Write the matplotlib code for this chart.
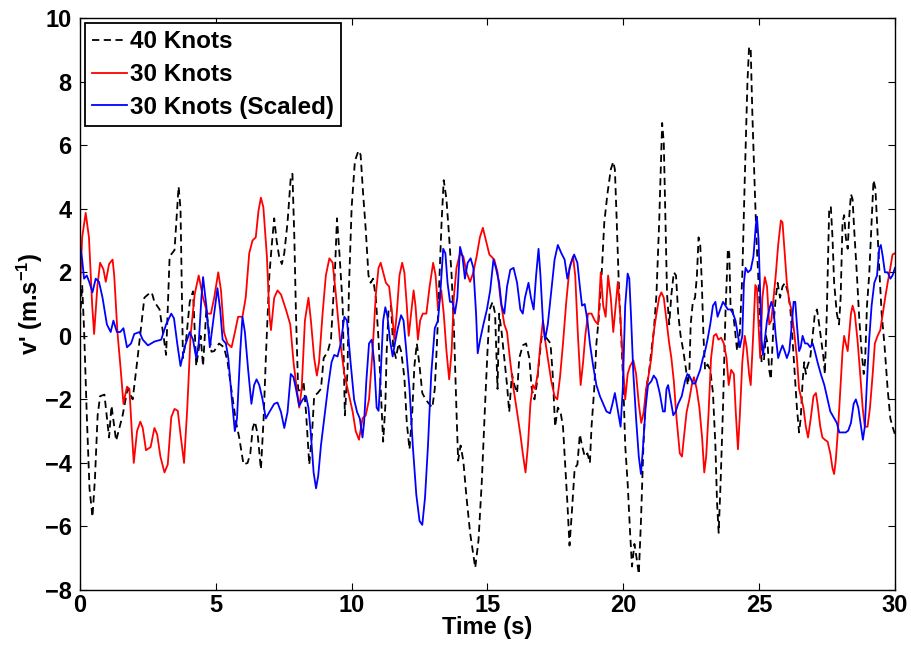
import matplotlib
matplotlib.use("Agg")
import matplotlib.pyplot as plt

plt.rcParams['font.family'] = ['Liberation Sans', 'DejaVu Sans']
plt.rcParams['font.weight'] = 'bold'
plt.rcParams['mathtext.fontset'] = 'custom'
plt.rcParams['mathtext.rm'] = 'Liberation Sans:bold'
plt.rcParams['mathtext.it'] = 'Liberation Sans:bold'
plt.rcParams['mathtext.bf'] = 'Liberation Sans:bold'

# 40 knots
t_40 = [0.0, 0.08, 0.15, 0.25, 0.35, 0.46, 0.55, 0.65, 0.74, 0.9, 1.07, 1.16, 1.33, 1.57, 1.75, 1.94,
        2.12, 2.37, 2.5, 2.64, 2.74, 2.93, 3.09, 3.17, 3.3, 3.48, 3.63, 3.7, 3.79, 3.91, 4.04, 4.16,
        4.28, 4.44, 4.53, 4.65, 4.84, 4.94, 5.12, 5.3, 5.43, 5.55, 5.74, 5.86, 6.02, 6.17, 6.27, 6.36,
        6.44, 6.54, 6.66, 6.76, 6.85, 6.97, 7.06, 7.15, 7.24, 7.33, 7.43, 7.52, 7.64, 7.76, 7.82, 7.89,
        7.95, 8.03, 8.13, 8.23, 8.32, 8.44, 8.54, 8.62, 8.75, 8.87, 8.97, 9.12, 9.24, 9.39, 9.46, 9.55,
        9.67, 9.75, 9.85, 9.9, 10.0, 10.12, 10.25, 10.33, 10.42, 10.52, 10.62, 10.7, 10.79, 10.89, 10.99,
        11.07, 11.16, 11.24, 11.29, 11.36, 11.45, 11.53, 11.63, 11.73, 11.82, 11.94, 12.03, 12.13, 12.23,
        12.31, 12.4, 12.5, 12.6, 12.72, 12.85, 12.97, 13.06, 13.14, 13.22, 13.31, 13.39, 13.49, 13.59,
        13.68, 13.77, 13.86, 13.92, 14.01, 14.11, 14.23, 14.36, 14.48, 14.55, 14.67, 14.79, 14.92, 15.0,
        15.08, 15.19, 15.28, 15.37, 15.43, 15.52, 15.62, 15.72, 15.8, 15.9, 15.99, 16.09, 16.17, 16.3,
        16.42, 16.54, 16.63, 16.73, 16.83, 16.91, 17.0, 17.1, 17.22, 17.32, 17.4, 17.49, 17.59, 17.69,
        17.78, 17.86, 17.94, 18.02, 18.11, 18.21, 18.31, 18.4, 18.48, 18.58, 18.68, 18.77, 18.83, 18.93,
        19.01, 19.1, 19.2, 19.3, 19.42, 19.54, 19.63, 19.69, 19.75, 19.84, 19.92, 20.0, 20.07, 20.16,
        20.25, 20.32, 20.41, 20.49, 20.57, 20.65, 20.74, 20.84, 20.94, 21.03, 21.12, 21.22, 21.32, 21.38,
        21.43, 21.49, 21.55, 21.61, 21.69, 21.77, 21.86, 21.94, 22.02, 22.11, 22.21, 22.31, 22.37, 22.43,
        22.48, 22.56, 22.64, 22.71, 22.77, 22.83, 22.89, 22.95, 23.01, 23.1, 23.2, 23.3, 23.39, 23.45,
        23.51, 23.58, 23.67, 23.76, 23.85, 23.9, 23.95, 24.02, 24.09, 24.19, 24.29, 24.38, 24.47, 24.57,
        24.63, 24.69, 24.75, 24.84, 24.91, 25.0, 25.09, 25.17, 25.25, 25.31, 25.37, 25.43, 25.53, 25.61,
        25.68, 25.77, 25.86, 25.95, 26.04, 26.14, 26.23, 26.31, 26.39, 26.47, 26.53, 26.6, 26.66, 26.72,
        26.78, 26.88, 26.97, 27.05, 27.13, 27.21, 27.3, 27.37, 27.42, 27.49, 27.58, 27.64, 27.7, 27.76,
        27.86, 27.94, 28.0, 28.07, 28.13, 28.19, 28.26, 28.32, 28.38, 28.44, 28.5, 28.6, 28.69, 28.77,
        28.85, 28.9, 28.97, 29.05, 29.14, 29.21, 29.28, 29.34, 29.42, 29.51, 29.61, 29.73, 29.83, 29.91, 30.0]
v_40 = [0.5, 1.6, 0.2, -2.5, -4.8, -5.7, -4.5, -2.5, -1.9, -1.85, -3.2, -2.2, -3.3, -2.5, -1.67, -2.0,
        -0.7, 1.2, 1.3, 1.37, 1.07, 0.83, -0.1, -0.6, 2.5, 2.7, 4.7, 4.0, -0.7, -0.1, 1.07, 1.4,
        -0.95, 0.0, -0.95, 0.8, -0.5, -0.48, -0.24, -0.36, -0.8, -1.55, -2.7, -3.2, -4.05, -4.0, -3.7, -2.9,
        -2.7, -3.1, -4.2, -2.6, -0.5, 1.9, 2.86, 3.7, 2.98, 2.5, 2.26, 2.6, 3.57, 5.0, 5.1, 3.1,
        0.7, -1.67, -1.8, -1.43, -2.4, -4.05, -3.1, -1.9, -1.8, -1.67, -0.7, -0.5, -0.1, 2.14, 3.7, 2.6,
        0.95, -2.5, -1.07, 1.5, 4.05, 5.5, 5.83, 5.7, 4.5, 3.33, 1.9, 1.67, 1.8, 1.2, -0.12,
        -1.67, -3.33, -2.2, -0.48, 0.83, 0.95, -0.36, -0.7, -0.24, -0.48, -1.3, -2.74, -3.57, -2.4,
        -0.95, -0.24, -0.95, -1.8, -2.0, -2.14, -2.26, -1.67, -0.24, 1.55, 3.57, 4.9, 4.3, 3.1,
        1.9, 0.12, -2.4, -3.93, -3.45, -3.93, -5.1, -6.2, -6.9, -7.3, -6.43, -4.6, -2.0, -0.5,
        0.83, 1.07, 0.7, -1.67, 0.7, 0.12, -0.7, -1.55, -2.4, -1.2, -1.55, -1.8, -0.7, -0.3,
        -0.24, -0.7, -1.67, -2.0, -1.43, -0.7, 0.0, 0.0, -0.12, -0.24, -1.2, -2.86, -2.26, -2.4,
        -2.86, -4.05, -5.24, -6.6, -5.5, -4.17, -4.05, -3.1, -3.45, -3.8, -3.7, -4.0, -2.86, -1.67,
        -0.24, 0.6, 1.9, 3.57, 4.5, 5.24, 5.48, 5.24, 3.8, 1.5, 0.0, -1.5, -3.45, -4.64,
        -6.2, -7.26, -6.55, -7.0, -7.5, -5.83, -3.45, -1.67, -1.2, -0.48, 0.12, 1.3, 3.57, 5.24,
        6.7, 6.07, 3.7, 1.3, 0.36, 1.3, 2.0, 1.9, 0.7, 0.0, -0.48, -1.07, -1.55, -1.2,
        0.36, 1.07, 1.2, 1.9, 3.1, 2.9, 1.67, 0.0, -1.07, -0.9, -1.07, -1.8, -3.45, -5.24,
        -6.2, -4.64, -2.26, 0.7, 2.74, 2.6, 0.83, 0.83, 0.36, -0.48, 0.12, 1.9, 4.9, 8.0,
        9.1, 9.0, 7.0, 4.6, 2.9, 1.3, -0.83, -0.83, 0.0, -0.24, -1.07, -1.37, 0.36, 1.2,
        1.67, 1.2, 1.55, 1.67, 1.43, 0.95, -0.12, -1.2, -2.26, -3.04, -2.6, -1.43, -0.83, -1.2,
        -0.95, -0.7, 0.0, 0.7, 0.83, 0.36, -0.24, -0.7, -1.2, 0.7, 4.05, 4.05, 3.1, 1.67,
        0.7, 0.36, 1.2, 3.57, 3.8, 3.1, 2.74, 3.8, 4.46, 4.3, 3.33, 1.9, 0.48, -0.48,
        -1.2, -0.8, 0.95, 1.9, 3.57, 4.9, 4.64, 3.57, 2.14, 0.7, -0.24, -1.67, -2.6, -2.86, -3.1]

# 30 knots
t_30 = [0.0, 0.08, 0.21, 0.33, 0.45, 0.52, 0.64, 0.74, 0.86, 0.95, 1.07, 1.2, 1.26, 1.38, 1.5, 1.6,
        1.73, 1.82, 1.9, 1.98, 2.1, 2.22, 2.31, 2.43, 2.6, 2.74, 2.84, 2.96, 3.11, 3.23, 3.36, 3.48,
        3.6, 3.7, 3.83, 3.95, 4.07, 4.22, 4.37, 4.53, 4.69, 4.82, 4.94, 5.09, 5.19, 5.3, 5.43, 5.58,
        5.7, 5.82, 5.98, 6.1, 6.23, 6.35, 6.47, 6.57, 6.66, 6.75, 6.88, 6.97, 7.03, 7.15, 7.27, 7.4,
        7.58, 7.74, 7.86, 7.98, 8.07, 8.16, 8.28, 8.41, 8.5, 8.62, 8.72, 8.8, 8.93, 9.05, 9.18, 9.3,
        9.42, 9.57, 9.73, 9.85, 10.04, 10.15, 10.27, 10.4, 10.52, 10.64, 10.77, 10.89, 10.99, 11.07,
        11.16, 11.26, 11.38, 11.49, 11.57, 11.66, 11.76, 11.86, 11.94, 12.03, 12.1, 12.19, 12.28, 12.35,
        12.44, 12.52, 12.62, 12.75, 12.87, 13.0, 13.09, 13.18, 13.3, 13.39, 13.49, 13.59, 13.68, 13.76,
        13.86, 13.99, 14.11, 14.23, 14.36, 14.48, 14.6, 14.72, 14.83, 14.95, 15.07, 15.25, 15.37, 15.49,
        15.62, 15.72, 15.84, 15.96, 16.09, 16.21, 16.3, 16.4, 16.49, 16.58, 16.67, 16.75, 16.85, 16.95,
        17.04, 17.12, 17.22, 17.35, 17.47, 17.57, 17.67, 17.78, 17.9, 18.02, 18.15, 18.23, 18.33, 18.43,
        18.52, 18.6, 18.7, 18.83, 18.95, 19.07, 19.17, 19.26, 19.35, 19.44, 19.54, 19.63, 19.72, 19.8,
        19.9, 20.0, 20.07, 20.16, 20.25, 20.37, 20.47, 20.57, 20.66, 20.75, 20.84, 20.94, 21.03, 21.12,
        21.22, 21.32, 21.4, 21.49, 21.59, 21.69, 21.77, 21.86, 21.96, 22.08, 22.16, 22.23, 22.33, 22.43,
        22.52, 22.6, 22.7, 22.8, 22.9, 22.98, 23.05, 23.14, 23.23, 23.33, 23.42, 23.5, 23.6, 23.7,
        23.8, 23.88, 23.97, 24.07, 24.14, 24.22, 24.29, 24.38, 24.47, 24.54, 24.63, 24.69, 24.78, 24.86,
        24.92, 24.98, 25.04, 25.12, 25.21, 25.29, 25.37, 25.45, 25.53, 25.61, 25.7, 25.8, 25.86, 25.92,
        26.02, 26.11, 26.19, 26.29, 26.39, 26.47, 26.56, 26.63, 26.72, 26.8, 26.9, 27.0, 27.09, 27.15,
        27.25, 27.33, 27.42, 27.52, 27.62, 27.7, 27.76, 27.82, 27.91, 27.99, 28.07, 28.13, 28.19, 28.26,
        28.32, 28.38, 28.44, 28.52, 28.62, 28.72, 28.81, 28.89, 28.99, 29.08, 29.18, 29.26, 29.36, 29.46,
        29.55, 29.64, 29.73, 29.83, 29.91, 30.0]
v_30 = [1.4, 3.1, 3.87, 3.1, 0.95, 0.06, 1.55, 2.3, 2.1, 1.7, 2.26, 2.4, 1.9, 0.1, -1.07, -2.14,
        -1.6, -1.67, -2.9, -4.0, -3.0, -2.7, -2.9, -3.6, -3.5, -2.9, -3.1, -3.8, -4.3, -4.05, -2.56, -2.3,
        -2.36, -3.1, -4.0, -2.26, 0.0, 1.3, 1.9, 1.2, 0.7, 0.7, 1.2, 2.0, 1.43, 0.12, -0.24, -0.36,
        0.1, 0.6, 0.6, 1.2, 2.6, 3.0, 3.1, 3.93, 4.35, 4.05, 2.5, 0.7, 0.18, 1.2, 1.43, 1.3,
        0.83, 0.36, -0.83, -1.67, -2.26, -1.67, 0.48, 1.2, 0.48, -0.7, -1.25, -0.83, 0.7, 1.9, 2.44, 2.3,
        1.3, -0.12, -1.2, -1.67, -2.4, -3.0, -3.27, -2.6, -2.5, -2.0, -0.48, 1.3, 2.14, 2.3,
        2.0, 1.67, 1.55, 0.7, -0.12, 0.7, 1.9, 2.3, 2.0, 0.95, 0.0, 0.7, 1.43, 0.95,
        -0.12, 0.48, 0.7, 0.7, 1.55, 2.3, 1.9, 0.83, 1.43, 0.7, -0.48, -1.37, -0.48, 1.2,
        2.14, 2.6, 2.5, 2.0, 1.7, 2.0, 2.5, 3.1, 3.4, 2.98, 2.56, 2.4, 2.0, 1.07,
        0.36, 0.12, -0.83, -1.67, -2.4, -3.1, -3.7, -4.3, -3.45, -2.14, -1.55, -1.67, -1.2, -0.24,
        0.48, -0.12, -0.7, -1.43, -1.9, -2.0, -1.3, -0.24, 1.07, 2.14, 2.5, 1.9, 0.0, -1.55,
        -0.83, 0.0, 0.7, 0.7, 0.48, 0.36, 2.0, 0.95, 0.6, 1.9, 1.2, 0.12, 0.95, 1.7,
        0.5, -1.07, -2.0, -1.2, -0.95, -0.77, -1.2, -2.14, -2.74, -2.4, -1.67, -1.2, -0.7, 0.12,
        0.7, 1.2, 1.37, 1.2, 0.48, -0.24, -0.7, -1.43, -2.6, -3.7, -3.8, -3.2, -2.4, -2.0,
        -1.55, -1.3, -1.67, -2.26, -3.2, -4.3, -3.8, -2.4, -0.7, 0.0, 0.06, -0.12, -0.06, -0.24,
        -0.7, -1.55, -1.07, -1.2, -2.4, -3.57, -2.5, -0.83, 0.0, -0.36, -1.2, -1.55, 0.0, 1.6,
        1.5, 0.3, -0.7, 1.2, 1.85, 1.55, 0.36, 0.48, 1.2, 1.9, 2.86, 3.63, 3.57, 2.86,
        1.67, 1.07, 0.83, 0.12, -0.7, -1.67, -2.0, -2.26, -2.86, -3.2, -2.6, -1.9, -1.8, -2.14,
        -2.86, -3.2, -3.27, -3.33, -3.7, -4.17, -4.35, -3.93, -2.86, -1.67, -0.48, 0.0, -0.24, -0.48,
        0.12, 0.7, 0.95, 0.7, -0.12, -1.2, -2.26, -2.86, -2.86, -2.26, -1.2, -0.24, 0.0, 0.18,
        0.7, 1.2, 1.67, 2.14, 2.56, 2.6]

# 30 knots, scaled
t_30s = [0.0, 0.08, 0.15, 0.25, 0.34, 0.46, 0.58, 0.7, 0.83, 0.99, 1.13, 1.23, 1.36, 1.48, 1.6, 1.73,
         1.88, 2.0, 2.19, 2.31, 2.5, 2.74, 2.99, 3.17, 3.36, 3.46, 3.58, 3.7, 3.85, 4.04, 4.16, 4.28,
         4.37, 4.47, 4.53, 4.65, 4.78, 4.94, 5.06, 5.16, 5.25, 5.37, 5.46, 5.58, 5.7, 5.78, 5.9, 5.98,
         6.07, 6.19, 6.31, 6.41, 6.5, 6.6, 6.72, 6.84, 6.97, 7.15, 7.27, 7.4, 7.52, 7.64, 7.76, 7.86,
         7.95, 8.07, 8.2, 8.32, 8.41, 8.5, 8.6, 8.69, 8.77, 8.87, 9.02, 9.14, 9.26, 9.36, 9.48, 9.6,
         9.73, 9.83, 9.96, 10.09, 10.2, 10.3, 10.4, 10.46, 10.54, 10.64, 10.74, 10.83, 10.92, 10.99,
         11.07, 11.16, 11.24, 11.32, 11.41, 11.51, 11.6, 11.7, 11.82, 11.91, 12.0, 12.13, 12.25, 12.38,
         12.5, 12.6, 12.7, 12.81, 12.93, 13.06, 13.18, 13.27, 13.37, 13.45, 13.53, 13.62, 13.71, 13.8,
         13.89, 13.99, 14.08, 14.17, 14.27, 14.38, 14.48, 14.58, 14.64, 14.73, 14.85, 14.98, 15.1, 15.22,
         15.31, 15.43, 15.52, 15.62, 15.72, 15.84, 15.96, 16.09, 16.21, 16.3, 16.38, 16.51, 16.6, 16.7,
         16.79, 16.88, 16.95, 17.04, 17.12, 17.22, 17.35, 17.47, 17.59, 17.72, 17.84, 17.94, 18.06, 18.19,
         18.31, 18.4, 18.48, 18.58, 18.68, 18.77, 18.89, 19.01, 19.14, 19.26, 19.38, 19.51, 19.6, 19.69,
         19.79, 19.9, 19.98, 20.07, 20.16, 20.22, 20.28, 20.37, 20.47, 20.57, 20.65, 20.72, 20.82, 20.91,
         21.03, 21.12, 21.22, 21.34, 21.46, 21.53, 21.59, 21.65, 21.74, 21.84, 21.93, 22.02, 22.15, 22.27,
         22.36, 22.46, 22.56, 22.65, 22.73, 22.83, 22.93, 23.01, 23.1, 23.2, 23.3, 23.39, 23.47, 23.57,
         23.67, 23.76, 23.85, 23.95, 24.04, 24.13, 24.22, 24.29, 24.38, 24.44, 24.5, 24.59, 24.69, 24.79,
         24.88, 24.92, 24.98, 25.04, 25.09, 25.14, 25.21, 25.29, 25.37, 25.45, 25.53, 25.61, 25.7, 25.78,
         25.86, 25.94, 26.02, 26.11, 26.19, 26.27, 26.33, 26.39, 26.47, 26.53, 26.6, 26.69, 26.78, 26.88,
         26.97, 27.05, 27.15, 27.27, 27.4, 27.52, 27.62, 27.74, 27.86, 27.95, 28.07, 28.19, 28.28, 28.38,
         28.48, 28.56, 28.65, 28.75, 28.82, 28.89, 28.97, 29.05, 29.14, 29.24, 29.34, 29.42, 29.48, 29.55,
         29.63, 29.73, 29.83, 29.91, 30.0]
v_30s = [2.86, 2.4, 1.8, 1.9, 1.7, 1.37, 1.8, 1.7, 1.2, 0.36, 0.12, 0.48, 0.12, 0.12, 0.24, -0.36,
         -0.24, 0.06, 0.12, -0.12, -0.3, -0.18, -0.12, 0.36, 0.7, 0.55, -0.24, -0.95, -0.36, 0.12, -0.12, -0.7,
         -0.24, 1.2, 1.85, 0.95, -0.36, 0.7, 1.5, 0.83, -0.12, -0.24, -0.7, -1.9, -3.0, -2.6, -0.48, 0.6,
         0.12, -1.07, -2.14, -1.55, -1.37, -1.55, -2.0, -2.6, -2.4, -2.14, -2.1, -2.4, -2.9, -2.4, -1.2, -1.3,
         -1.67, -2.2, -2.0, -1.9, -2.26, -3.1, -4.3, -4.8, -4.4, -3.45, -2.4, -1.55, -0.83, -0.6, -0.65, -0.24,
         0.6, 0.48, -0.83, -2.0, -2.4, -2.6, -3.2, -2.7, -1.43, -0.24, -0.12, -0.83, -2.26, -2.36,
         -1.2, 0.48, 0.9, 0.6, -0.12, -0.65, -0.2, 0.24, 0.65, 0.48, -0.36, -1.67, -3.45, -5.0,
         -5.83, -5.95, -5.1, -3.45, -1.2, 0.24, 0.48, 1.43, 2.74, 2.6, 1.67, 1.07, 1.07, 0.7,
         1.2, 2.8, 2.5, 1.8, 2.3, 2.44, 2.14, 0.7, -0.55, -0.12, 0.36, 0.83, 1.43, 2.4,
         2.14, 1.67, 0.95, 0.7, 1.55, 2.08, 2.14, 1.67, 0.83, 0.7, 1.2, 1.67, 1.2, 0.83,
         1.9, 2.74, 1.9, 0.48, -0.12, 0.36, 1.43, 2.4, 2.86, 2.6, 2.4, 1.8, 2.26, 2.56,
         2.3, 1.55, 0.95, 1.0, 0.48, -0.24, -0.95, -1.55, -1.9, -2.14, -2.38, -2.44, -2.14, -1.8,
         -2.3, -2.86, -1.67, 0.95, 1.96, 1.8, 0.7, -1.2, -2.6, -3.8, -4.35, -3.57, -2.26, -1.55,
         -1.43, -1.25, -1.37, -1.8, -2.38, -2.38, -1.67, -1.55, -2.0, -2.5, -2.38, -2.14, -1.9, -1.43,
         -1.2, -1.3, -1.5, -1.5, -1.3, -1.07, -0.7, -0.48, -0.12, 0.36, 0.95, 1.07, 0.6, 0.83,
         1.07, 0.95, 0.83, 0.83, 0.7, 0.48, 0.0, -0.36, 0.0, 1.67, 2.14, 2.0, 2.08, 2.5,
         3.5, 3.75, 3.0, 1.3, -0.12, -0.6, -0.12, 0.48, 0.83, 1.07, 0.83, 0.0, -0.7, -0.48,
         -0.3, -0.48, -0.7, -0.48, 0.24, 1.07, 1.07, 0.36, -0.48, -0.36, 0.0, -0.24, -0.24, -0.36,
         -0.24, -0.48, -0.83, -1.2, -1.55, -2.0, -2.38, -2.56, -2.74, -3.04, -3.04, -3.04, -2.98, -2.74,
         -2.14, -2.0, -2.26, -2.86, -3.27, -2.86, -1.43, -0.12, 0.95, 1.67, 1.9, 2.74, 2.86, 2.5,
         2.0, 2.0, 1.8, 1.9, 2.14]

labels = ['40 Knots', '30 Knots', '30 Knots (Scaled)']
x_ticks = [0, 5, 10, 15, 20, 25, 30]
y_ticks = [-8, -6, -4, -2, 0, 2, 4, 6, 8, 10]

FS = 17
LEG_FS = 17.5

fig = plt.figure(figsize=(9.11, 6.48), dpi=100)
ax = fig.add_axes([0.0878, 0.0895, 0.8946, 0.8825])

ax.plot(t_40, v_40, color='black', linestyle='--', dashes=(4, 2.5), linewidth=1.3, label=labels[0])
ax.plot(t_30, v_30, color='#ff0000', linewidth=1.3, label=labels[1])
ax.plot(t_30s, v_30s, color='#0000ff', linewidth=1.3, label=labels[2])

ax.set_xlim(0, 30)
ax.set_ylim(-8, 10)
ax.set_xticks(x_ticks)
ax.set_yticks(y_ticks)
ax.tick_params(direction='in', top=True, right=True, length=5, width=0.8, labelsize=FS)
ax.tick_params(axis='x', pad=3)
ax.tick_params(axis='y', pad=6)
for lbl in ax.get_xticklabels() + ax.get_yticklabels():
    lbl.set_fontweight('bold')
for sp in ax.spines.values():
    sp.set_linewidth(1.0)

ax.set_xlabel('Time (s)', fontsize=FS, fontweight='bold', labelpad=-1)
ax.set_ylabel(r"v' (m.s$^{-1}$)", fontsize=FS, fontweight='bold', labelpad=0)

leg = ax.legend(loc='upper left', fontsize=LEG_FS, handlelength=1.45, handletextpad=0.1,
                borderaxespad=0.2, fancybox=False, framealpha=1, edgecolor='black',
                labelspacing=0.4, borderpad=0.3)
leg.get_frame().set_linewidth(1.3)
for txt in leg.get_texts():
    txt.set_fontweight('bold')

fig.savefig('out.png', dpi=100)
